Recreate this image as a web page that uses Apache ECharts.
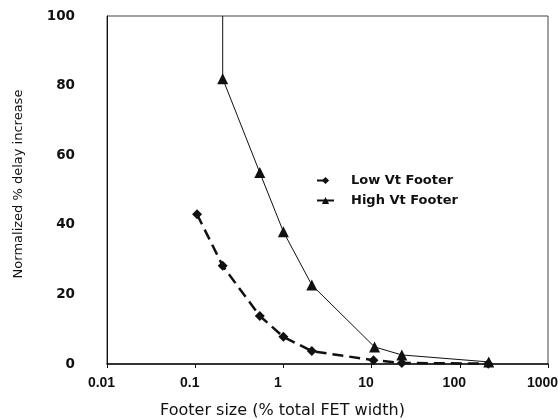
<!DOCTYPE html>
<html>
<head>
<meta charset="utf-8">
<script src="https://cdn.jsdelivr.net/npm/echarts@6/dist/echarts.min.js"></script>
<style>html,body{margin:0;padding:0;background:#fff;}#c{width:558px;height:419px;}</style>
</head>
<body>
<div id="c"></div>
<script>
const xTicks = [0.01, 0.1, 1, 10, 100, 1000];
const yTicks = [0, 20, 40, 60, 80, 100];
const lowX = [0.105, 0.205, 0.54, 1, 2.1, 10.5, 22, 210];
const lowY = [43, 28.2, 13.8, 7.8, 3.7, 1.1, 0.3, 0.1];
const highX = [0.205, 0.205, 0.54, 1, 2.1, 10.8, 22, 213];
const highY = [100, 82, 55, 38, 22.7, 4.9, 2.6, 0.6];
const names = ['Low Vt Footer', 'High Vt Footer'];

const chart = echarts.init(document.getElementById('c'));
const font = '"DejaVu Sans", "Liberation Sans", Arial, sans-serif';
const lib = '"Liberation Sans", Arial, sans-serif';
chart.setOption({
  animation: false,
  grid: {left: 107, right: 10, top: 16, bottom: 55, show: true, borderColor: '#444', borderWidth: 1,
         containLabel: false, outerBoundsMode: 'none'},
  legend: {
    data: [names[0], names[1]],
    orient: 'vertical', left: 316, top: 174, padding: 0, itemGap: 7, itemWidth: 17, itemHeight: 9,
    textStyle: {fontFamily: font, fontWeight: 'bold', fontSize: 13, color: '#111', padding: [0, 0, 0, 12]}
  },
  xAxis: {
    type: 'log', logBase: 10, min: xTicks[0], max: xTicks[xTicks.length-1],
    name: 'Footer size (% total FET width)', nameLocation: 'middle', nameGap: 39,
    nameTextStyle: {fontFamily: font, fontSize: 16, color: '#111', padding: [0, 90, 0, 0]},
    axisLine: {lineStyle: {color: '#111', width: 1.5}},
    axisTick: {show: true, inside: false, length: 4, lineStyle: {color: '#111'}},
    minorTick: {show: false},
    splitLine: {show: false},
    axisLabel: {fontFamily: lib, fontWeight: 'bold', fontSize: 14, color: '#111', margin: 12, hideOverlap: false,
      padding: [0, 11, 0, 0],
      formatter: v => { const t = xTicks.find(x => Math.abs(x - v) / x < 1e-6); return t === undefined ? '' : String(t); }}
  },
  yAxis: {
    type: 'value', min: yTicks[0], max: yTicks[yTicks.length-1], interval: 20,
    name: 'Normalized % delay increase', nameLocation: 'middle', nameGap: 82,
    nameTextStyle: {fontFamily: font, fontSize: 13, color: '#111', padding: [0, 0, 0, 12]},
    axisLine: {show: true, lineStyle: {color: '#111', width: 1}},
    axisTick: {show: false},
    splitLine: {show: false},
    axisLabel: {fontFamily: font, fontWeight: 'bold', fontSize: 13.5, color: '#111', margin: 32}
  },
  series: [
    {
      name: names[0], type: 'line',
      data: lowX.map((x, i) => [x, lowY[i]]),
      symbol: 'diamond', symbolSize: 10,
      itemStyle: {color: '#111'},
      lineStyle: {color: '#111', width: 2.5, type: [11, 6]}
    },
    {
      name: names[1], type: 'line',
      data: highX.map((x, i) => i === 0 ? {value: [x, highY[i]], symbol: 'none'} : [x, highY[i]]),
      symbol: 'triangle', symbolSize: 11,
      itemStyle: {color: '#111'},
      lineStyle: {color: '#111', width: 1}
    }
  ]
});
</script>
</body>
</html>
